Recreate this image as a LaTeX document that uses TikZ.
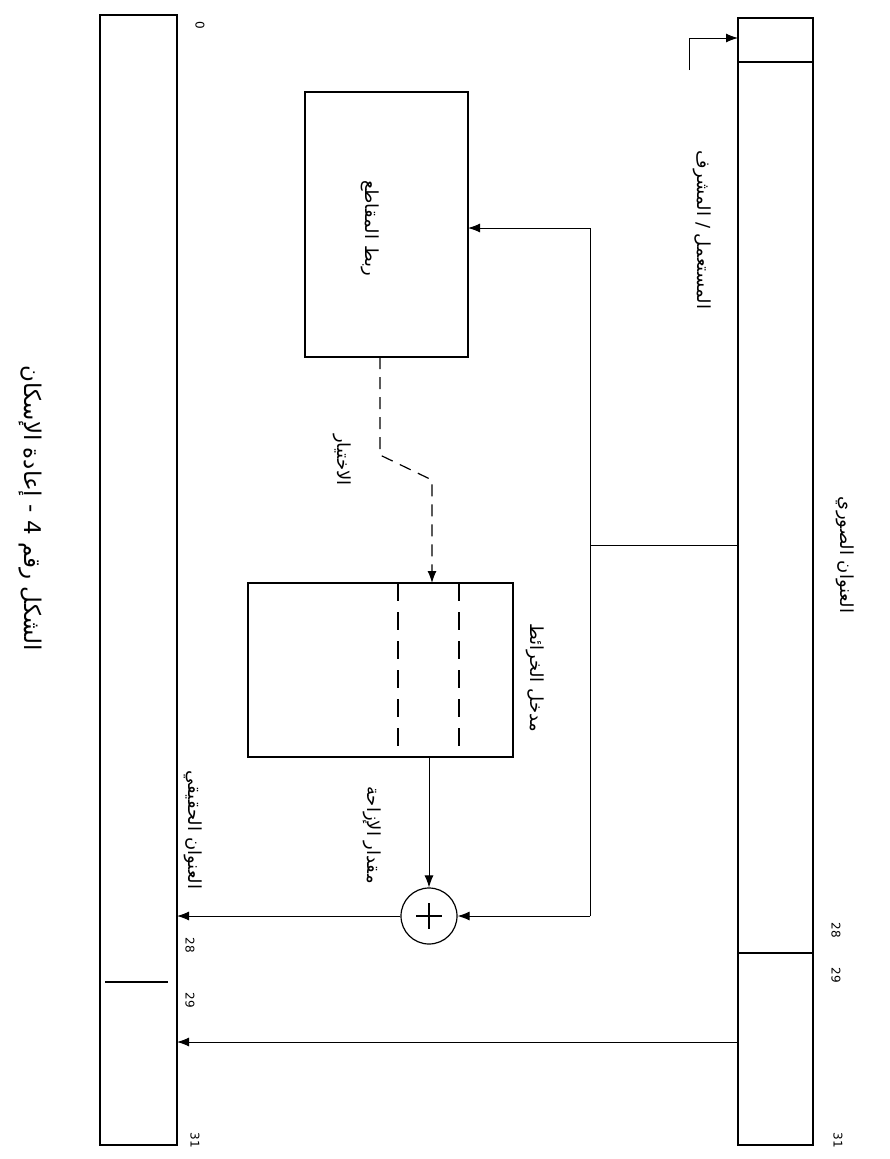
\documentclass[tikz,border=0pt]{standalone}
\usepackage{fontspec}
\setmainfont{DejaVu Sans}
\newfontfamily\arabicfont[Script=Arabic]{DejaVu Sans}
\TeXXeTstate=1
\usetikzlibrary{arrows.meta}
\begin{document}
\begin{tikzpicture}[x=1pt,y=-1pt,line width=1pt,
  lbl/.style={rotate=-90,font=\arabicfont\fontsize{18}{20}\selectfont,inner sep=0pt},
  captionlbl/.style={rotate=-90,font=\arabicfont\fontsize{23}{25}\selectfont,inner sep=0pt},
  num/.style={rotate=-90,font=\fontsize{12}{14}\selectfont,inner sep=0pt},
  arr/.style={-{Latex[length=12pt,width=9pt]}},
  bar/.style={draw,line width=1.1pt,inner sep=0pt,outer sep=0pt},
  blk/.style={draw,line width=1.3pt,inner sep=0pt,outer sep=0pt},
  dsh/.style={dash pattern=on 12pt off 8pt,line width=1.2pt},
  boxdsh/.style={dash pattern=on 18pt off 11pt,line width=1.2pt}]
\useasboundingbox (0,0) rectangle (889,1159);
% bars
\node[bar,minimum width=75pt,minimum height=1127pt] (vbar) at (775.5,581.5) {};
\node[bar,minimum width=77pt,minimum height=1130pt] (rbar) at (138.5,580) {};
\draw[line width=1.1pt] (vbar.west |- 0,62) -- (vbar.east |- 0,62);
\draw[line width=1.1pt] (vbar.west |- 0,953) -- (vbar.east |- 0,953);
\draw[line width=2pt] (105,982) -- (168,982);
% blocks
\node[blk,minimum width=163pt,minimum height=265pt] (box1) at (386.5,224.5) {};
\node[blk,minimum width=265pt,minimum height=174pt] (box2) at (380.5,670) {};
\draw[boxdsh] (box2.north -| 398,0) -- (box2.south -| 398,0);
\draw[boxdsh] (box2.north -| 459,0) -- (box2.south -| 459,0);
\node[draw,circle,line width=1.2pt,minimum size=56pt,inner sep=0pt] (circ) at (429,916) {};
\draw[line width=1.2pt] (circ.center) ++(-13,0) -- ++(26,0);
\draw[line width=1.2pt] (circ.center) ++(0,-13) -- ++(0,26);
% connectors
\coordinate (j1) at (590,545);
\coordinate (j2) at (590,228);
\coordinate (j3) at (590,916);
\draw (vbar.west |- j1) -- (j1);
\draw[arr] (j3) -- (j2) -- (box1.east |- j2);
\draw[arr] (j3) -- (circ.east);
\draw[arr] (circ.west) -- (rbar.east |- circ.west);
\coordinate (k) at (600,1042);
\draw[arr] (vbar.west |- k) -- (rbar.east |- k);
\draw[arr] (box2.south -| circ.north) -- (circ.north);
\coordinate (d0) at (380,357);
\coordinate (d1) at (380,455);
\coordinate (d2) at (432,480);
\draw[dsh,arr] (d0) -- (d1) -- (d2) -- (d2 |- box2.north);
\coordinate (u1) at (689,70);
\coordinate (u2) at (689,38);
\draw[arr] (u1) -- (u2) -- (vbar.west |- u2);
% labels
\node[lbl] (t1) at (845,555) {\beginR العنوان الصوري\endR};
\node[lbl] (t2) at (702,230) {\beginR المستعمل / المشرف\endR};
\node[lbl] (t3) at (370,228) {\beginR ربط المقاطع\endR};
\node[lbl] (t4) at (342,460) {\beginR الاختيار\endR};
\node[lbl] (t5) at (535,678) {\beginR مدخل الخرائط\endR};
\node[lbl] (t6) at (372,835) {\beginR مقدار الإزاحة\endR};
\node[lbl] (t7) at (193,830) {\beginR العنوان الحقيقي\endR};
\node[captionlbl] (t8) at (30,508) {\beginR الشكل رقم 4 - إعادة الإسكان\endR};
% bit numbers
\node[num] (n0) at (200,25) {0};
\node[num] (n1) at (836,930) {28};
\node[num] (n2) at (836,975) {29};
\node[num] (n3) at (838,1140) {31};
\node[num] (n4) at (190,945) {28};
\node[num] (n5) at (190,1000) {29};
\node[num] (n6) at (195,1140) {31};
\end{tikzpicture}
\end{document}
